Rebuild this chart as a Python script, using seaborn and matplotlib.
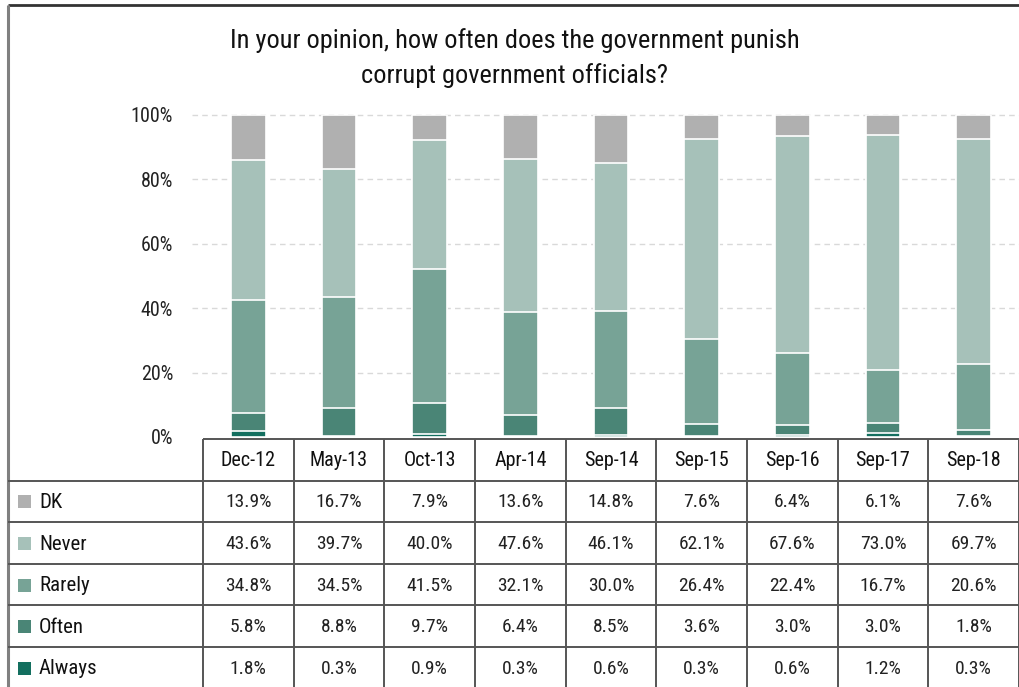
import matplotlib
matplotlib.use("Agg")
import matplotlib.pyplot as plt
from matplotlib import font_manager
import numpy as np
import pandas as pd
import seaborn as sns

# ---- data -------------------------------------------------------------
periods = ["Dec-12", "May-13", "Oct-13", "Apr-14", "Sep-14",
           "Sep-15", "Sep-16", "Sep-17", "Sep-18"]
dk = [13.9, 16.7, 7.9, 13.6, 14.8, 7.6, 6.4, 6.1, 7.6]
never = [43.6, 39.7, 40.0, 47.6, 46.1, 62.1, 67.6, 73.0, 69.7]
rarely = [34.8, 34.5, 41.5, 32.1, 30.0, 26.4, 22.4, 16.7, 20.6]
often = [5.8, 8.8, 9.7, 6.4, 8.5, 3.6, 3.0, 3.0, 1.8]
always = [1.8, 0.3, 0.9, 0.3, 0.6, 0.3, 0.6, 1.2, 0.3]

answers = ["DK", "Never", "Rarely", "Often", "Always"]
values = {"DK": dk, "Never": never, "Rarely": rarely, "Often": often, "Always": always}
colors = {"DK": "#b0b0b0", "Never": "#a6c1b9", "Rarely": "#77a396",
          "Often": "#4a8576", "Always": "#136f5f"}
title = "In your opinion, how often does the government punish\ncorrupt government officials?"

# ---- style -------------------------------------------------------------
sns.set_theme(style="white")
installed = {f.name for f in font_manager.fontManager.ttflist}
family = [f for f in ["Roboto Condensed", "Archivo Narrow", "Asap Condensed",
                      "PT Sans Narrow", "DejaVu Sans"] if f in installed][:1] + ["DejaVu Sans"]
plt.rcParams["font.family"] = family

W, H = 1019, 687
fig = plt.figure(figsize=(W / 100, H / 100), dpi=100)
fig.patch.set_facecolor("white")

# ---- stacked bars --------------------------------------------------------
x0, x1 = 203, 1019          # plot/table column span in pixels
y0, y100 = 437, 115         # 0% and 100% in pixels
ax = fig.add_axes([x0 / W, 1 - y0 / H, (x1 - x0) / W, (y0 - y100) / H])

df = pd.DataFrame(values, index=periods)
# draw cumulative layers from the top down so each shorter bar covers the taller one
stack_order = ["Always", "Often", "Rarely", "Never", "DK"]
cum = df[stack_order].cumsum(axis=1)
for name in reversed(stack_order):
    sns.barplot(x=periods, y=cum[name].values, color=colors[name], ax=ax,
                width=0.385, edgecolor="white", linewidth=1.2, saturation=1,
                zorder=3)

ax.set_xlim(-0.5, len(periods) - 0.5)
ax.set_ylim(0, 100)
ax.set_yticks(np.arange(0, 101, 20))
ax.set_yticklabels([f"{v}%" for v in range(0, 101, 20)], fontsize=14.5, color="#222222")
ax.tick_params(axis="y", length=0, pad=21.5)
ax.set_xticks([])
ax.set_xlabel("")
for s in ax.spines.values():
    s.set_visible(False)
ax.patch.set_alpha(0)

# dashed gridlines, extended a little left of the plot area
trans = ax.get_yaxis_transform()
for v in range(20, 101, 20):
    ax.plot([-0.014, 1.0], [v, v], transform=trans, color="#d9d9d9",
            lw=1.0, ls=(0, (4, 3)), clip_on=False, zorder=1)

# ---- title, frame and data table ----------------------------------------
ov = fig.add_axes([0, 0, 1, 1], zorder=5)
ov.set_xlim(0, W)
ov.set_ylim(H, 0)
ov.axis("off")
ov.patch.set_alpha(0)

ov.text(515, 58, title, ha="center", va="center", fontsize=19,
        color="#111111", linespacing=1.5)

# outer frame (top and left)
ov.plot([8, W], [5, 5], color="#333333", lw=2, solid_capstyle="butt")
ov.plot([8, 8], [5, H], color="#808080", lw=2.2, solid_capstyle="butt")

col_w = (x1 - x0) / len(periods)
row_top = 439
row_h = 41.6
line_kw = dict(color="#555555", lw=1.4, solid_capstyle="butt")

# header row border
ov.plot([x0, x1], [row_top, row_top], **line_kw)
for k in range(len(periods) + 1):
    ov.plot([x0 + k * col_w] * 2, [row_top, H + 2], **line_kw)
for r in range(1, len(answers) + 1):
    y = row_top + r * row_h
    ov.plot([8, x1], [y, y], **line_kw)

for k, p in enumerate(periods):
    ov.text(x0 + (k + 0.5) * col_w, row_top + row_h / 2 + 1, p,
            ha="center", va="center", fontsize=14.5, color="#111111")

for r, name in enumerate(answers):
    yc = row_top + (r + 1.5) * row_h + 1
    ov.add_patch(plt.Rectangle((18, yc - 7), 13, 13, color=colors[name], lw=0))
    ov.text(39, yc, name, ha="left", va="center", fontsize=15, color="#111111")
    for k, v in enumerate(values[name]):
        ov.text(x0 + (k + 0.5) * col_w, yc, f"{v:.1f}%", ha="center",
                va="center", fontsize=14, color="#222222")

fig.savefig("out.png", dpi=100, facecolor="white")
